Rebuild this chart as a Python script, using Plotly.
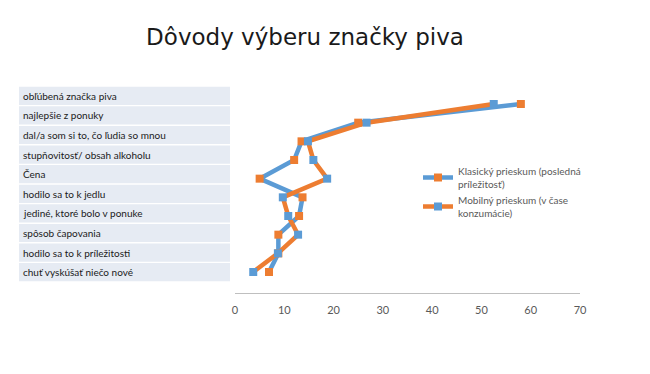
import plotly.graph_objects as go

categories = [
    "obľúbená značka piva",
    "najlepšie z ponuky",
    "dal/a som si to, čo ľudia so mnou",
    "stupňovitosť/ obsah alkoholu",
    "Čena",
    "hodilo sa to k jedlu",
    "jediné, ktoré bolo v ponuke",
    "spôsob čapovania",
    "hodilo sa to k príležitosti",
    "chuť vyskúšať niečo nové",
]
klasicky = [58, 25, 13.5, 12, 5, 13.7, 13, 8.8, 8.8, 6.9]
mobilny = [52.5, 26.7, 14.8, 15.9, 18.7, 9.7, 10.8, 12.8, 8.7, 3.7]
series_names = ["Klasický prieskum (posledná<br>príležitosť)",
                "Mobilný prieskum (v čase<br>konzumácie)"]
x_ticks = [0, 10, 20, 30, 40, 50, 60, 70]

BLUE = "#5b9bd5"
ORANGE = "#ed7d31"
GREY = "#595959"

fig = go.Figure()
fig.add_trace(go.Scatter(
    x=klasicky, y=categories, name=series_names[0], mode="lines+markers",
    line=dict(color=BLUE, width=4.5),
    marker=dict(symbol="square", size=8, color=ORANGE),
))
fig.add_trace(go.Scatter(
    x=mobilny, y=categories, name=series_names[1], mode="lines+markers",
    line=dict(color=ORANGE, width=4.5),
    marker=dict(symbol="square", size=8, color=BLUE),
))

# left-hand table of categories (decoration on a secondary linear axis)
n = len(categories)
shapes = []
annotations = []
for i, cat in enumerate(categories):
    idx = n - 1 - i
    shapes.append(dict(type="rect", xref="paper", yref="y2",
                       x0=(19 - 235) / 345, x1=(230 - 235) / 345,
                       y0=idx - 0.5 + 0.035, y1=idx + 0.5 - 0.035,
                       fillcolor="#e6ebf3", line=dict(width=0), layer="below"))
    annotations.append(dict(text=cat, xref="paper", yref="y2",
                            x=(21 - 235) / 345, y=idx, xanchor="left",
                            yanchor="middle", showarrow=False,
                            font=dict(family="Lato", size=10, color="#1a1a1a")))

fig.update_layout(
    width=650, height=374,
    margin=dict(l=235, r=70, t=86, b=81, autoexpand=False),
    paper_bgcolor="white", plot_bgcolor="white",
    title=dict(text="Dôvody výberu značky piva", x=305 / 650, xanchor="center",
               y=1 - 37 / 374, yanchor="middle",
               font=dict(family="DejaVu Sans", size=23, color="#1a1a1a")),
    xaxis=dict(range=[0, 70], tickvals=x_ticks, showgrid=False, zeroline=False,
               showline=True, linecolor="#bfbfbf", linewidth=1,
               ticks="outside", ticklen=7, tickcolor="rgba(0,0,0,0)",
               tickfont=dict(family="Lato", size=11, color=GREY)),
    yaxis=dict(type="category", categoryorder="array",
               categoryarray=list(reversed(categories)),
               range=[-1.125, 9.964], showticklabels=False, showgrid=False,
               zeroline=False, showline=False, ticks=""),
    yaxis2=dict(overlaying="y", range=[-1.061, 9.5], visible=False,
                showgrid=False, zeroline=False),
    shapes=shapes,
    annotations=annotations,
    showlegend=True,
    legend=dict(x=(418 - 235) / 345, y=(293 - 158) / 207, xanchor="left",
                yanchor="top", bgcolor="rgba(0,0,0,0)",
                font=dict(family="Lato", size=10, color=GREY),
                tracegroupgap=6, itemwidth=30),
)

fig.write_html("out.html", config={"displayModeBar": False},
               post_script="document.body.style.margin='0';")
